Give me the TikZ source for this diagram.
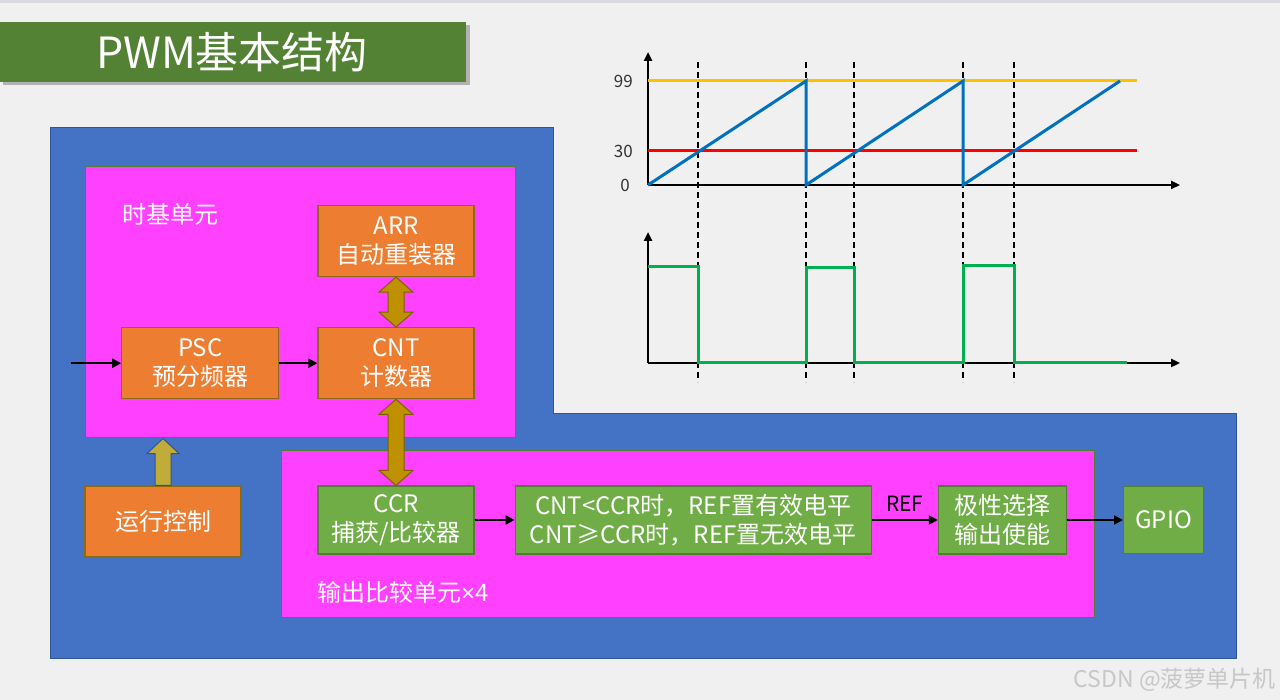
\documentclass[tikz,border=0pt]{standalone}
\usepackage{fontspec}
\setmainfont{Noto Sans CJK SC}
\newfontfamily\symfont{Liberation Sans}
\usetikzlibrary{arrows.meta,positioning,calc}
\definecolor{paper}{HTML}{F0F0F0}
\definecolor{topline}{HTML}{D9D9E1}
\definecolor{titlegreen}{HTML}{548235}
\definecolor{blockblue}{HTML}{4472C4}
\definecolor{blueedge}{HTML}{2F5597}
\definecolor{pinkfill}{HTML}{FF40FF}
\definecolor{orangefill}{HTML}{ED7D31}
\definecolor{orangeedge}{HTML}{8C6A14}
\definecolor{greenfill}{HTML}{70AD47}
\definecolor{greenedge}{HTML}{507E32}
\definecolor{gold}{HTML}{BF9000}
\definecolor{goldedge}{HTML}{7F6000}
\definecolor{olive}{HTML}{C0AC38}
\definecolor{arrline}{HTML}{FFC000}
\definecolor{ccrline}{HTML}{FF0000}
\definecolor{cntline}{HTML}{0070C0}
\definecolor{pwmline}{HTML}{00B050}
\tikzset{unit/.style={draw=greenedge,fill=pinkfill,line width=1pt,inner sep=0pt},obox/.style={draw=orangeedge,fill=orangefill,line width=1.2pt,text=white,align=center,minimum width=156pt,minimum height=71pt,inner sep=0pt,font=\fontsize{24}{29}\selectfont},gbox/.style={obox,draw=greenedge,fill=greenfill,minimum height=68pt},lab/.style={text=white,inner sep=0pt,font=\fontsize{24}{29}\selectfont},arr/.style={-{Triangle[length=9pt,width=9pt]},line width=2.2pt},fat/.style={fill=gold,draw=goldedge,line width=1pt},fatup/.style={fill=olive,draw=blueedge,line width=1pt},axis/.style={-{Triangle[length=9pt,width=8pt]},line width=2.4pt},wave/.style={line width=3pt},cut/.style={line width=1.6pt,dash pattern=on 6pt off 4pt},num/.style={anchor=east,inner sep=0pt,text=black!80,font=\fontsize{17}{17}\selectfont}}

\begin{document}
\begin{tikzpicture}[x=1pt,y=-1pt]
\useasboundingbox (0,0) rectangle (1280,700);
\fill[paper] (0,0) rectangle (1280,700);
\fill[topline] (0,0) rectangle (1280,3);
\fill[black!30] (3,25) rectangle (470,85);
\node[fill=titlegreen,minimum width=467pt,minimum height=60pt,inner sep=0pt,text=white,font=\fontsize{43}{50}\selectfont] (title) at (232,52) {PWM基本结构};
\filldraw[fill=blockblue,draw=blueedge,line width=1pt] (50,128) -| (553,414) -| (1236,658) -- (50,658) -- cycle;
\node[unit,minimum width=430pt,minimum height=271pt] (tb) at (300,302.5) {};
\node[unit,minimum width=813pt,minimum height=167pt] (oc) at (687.5,533.5) {};
\node[lab,anchor=west] (tbname) at (122,214) {时基单元};
\node[lab,anchor=west] (ocname) at (317,592) {输出比较单元{\symfont ×}4};
\node[obox] (arr) at (396,241) {ARR\\自动重装器};
\node[obox,below=50pt of arr] (cnt) {CNT\\计数器};
\node[obox,left=38pt of cnt,minimum width=157pt] (psc) {PSC\\预分频器};
\node[obox] (run) at (163,521.5) {运行控制};
\node[gbox] (ccr) at (396,520) {CCR\\捕获/比较器};
\node[gbox,right=40pt of ccr,minimum width=356pt] (cmp) {CNT<CCR时，REF置有效电平\\CNT≥CCR时，REF置无效电平};
\node[gbox,right=66pt of cmp,minimum width=128pt] (pol) {极性选择\\输出使能};
\node[gbox,right=56pt of pol,minimum width=80pt,minimum height=67pt] (gpio) {GPIO};
\coordinate (clk) at ($(psc.west)+(-50,0)$);
\draw[arr] (clk) -- (psc);
\draw[arr] (psc) -- (cnt);
\draw[arr] (ccr) -- (cmp);
\draw[arr] (cmp) -- node[above=7pt,inner sep=0pt,font=\fontsize{21}{21}\selectfont] {REF} (pol);
\draw[arr] (pol) -- (gpio);
\filldraw[fat] (arr.south) -- ++(17,15) -- ++(-9,0) -- ($(cnt.north)+(8,-15)$) -- ++(9,0) -- (cnt.north) -- ++(-17,-15) -- ++(9,0) -- ($(arr.south)+(-8,15)$) -- ++(-9,0) -- cycle;
\filldraw[fat] (cnt.south) -- ++(17,15) -- ++(-9,0) -- ($(ccr.north)+(8,-15)$) -- ++(9,0) -- (ccr.north) -- ++(-17,-15) -- ++(9,0) -- ($(cnt.south)+(-8,15)$) -- ++(-9,0) -- cycle;
\filldraw[fatup] ($(run.north)+(-8,0)$) -- ($(run.north |- tb.south)+(-8,15)$) -- ++(-8,0) -- (run.north |- tb.south) -- ++(16,15) -- ++(-8,0) -- ($(run.north)+(8,0)$) -- cycle;
\foreach \t in {698,806,854,963,1014} \draw[cut] (\t,62) -- (\t,382);
\draw[axis] (648,185) -- (1180,185);
\draw[axis] (648,185) -- (648,52);
\draw[axis] (648,363) -- (1180,363);
\draw[axis] (648,363) -- (648,232);
\node[num] (top) at (633,81) {99};
\node[num] (mid) at (633,151) {30};
\node[num] (zero) at (630,185) {0};
\draw[wave,arrline] (648,81) -- (1137,81);
\draw[wave,ccrline] (648,151) -- (1137,151);
\draw[wave,cntline] (648,185) -- (806,81) -- (806,185) -- (963,81) -- (963,185) -- (1120,81);
\draw[wave,pwmline] (648,267) -- (698,267) -- (698,363) -- (806,363) -- (806,268) -- (854,268) -- (854,363) -- (963,363) -- (963,266) -- (1014,266) -- (1014,363) -- (1127,363);
\node[anchor=east,inner sep=0pt,text=black!22,font=\fontsize{23}{23}\selectfont] (mark) at (1276,680) {CSDN @菠萝单片机};
\end{tikzpicture}
\end{document}
